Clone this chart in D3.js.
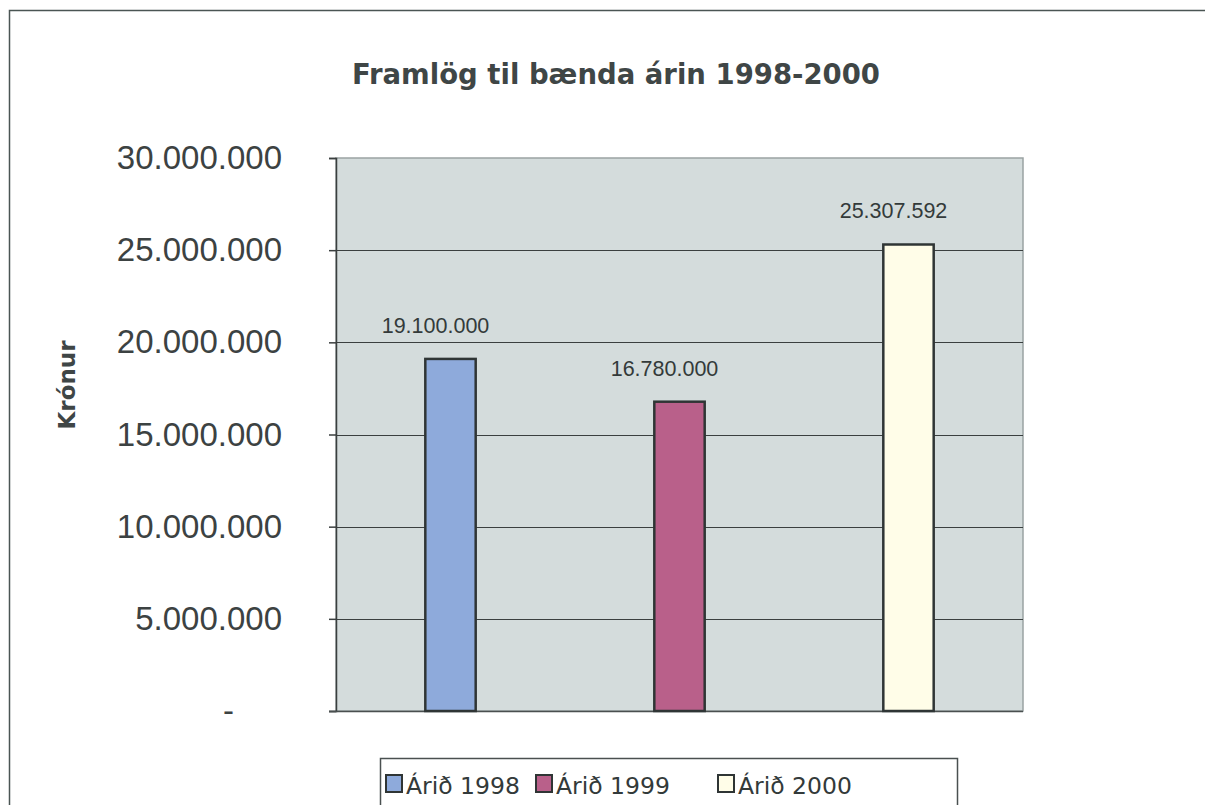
<!DOCTYPE html>
<html>
<head>
<meta charset="utf-8">
<script src="https://cdn.jsdelivr.net/npm/d3@7"></script>
<style>
  html, body { margin: 0; padding: 0; background: #ffffff; overflow: hidden; }
  svg { display: block; }
</style>
</head>
<body>
<svg id="chart" width="1205" height="805"></svg>
<script>
const categories = ["Árið 1998", "Árið 1999", "Árið 2000"];
const values = [19100000, 16780000, 25307592];
const valueLabels = ["19.100.000", "16.780.000", "25.307.592"];
const colors = ["#8eaadb", "#b9608a", "#fffde8"];
const yTicks = [0, 5000000, 10000000, 15000000, 20000000, 25000000, 30000000];
const yTickLabels = ["-", "5.000.000", "10.000.000", "15.000.000", "20.000.000", "25.000.000", "30.000.000"];
const title = "Framlög til bænda árin 1998-2000";
const yTitle = "Krónur";

const svg = d3.select("#chart");
const W = 1205, H = 805;
const plot = { left: 336, top: 158, right: 1023, bottom: 711 };

// outer chart border
svg.append("rect")
  .attr("x", 9.5).attr("y", 10.5)
  .attr("width", W + 20).attr("height", H + 20)
  .attr("fill", "#ffffff")
  .attr("stroke", "#4a5553").attr("stroke-width", 1.5);

const x = d3.scaleBand()
  .domain(categories)
  .range([plot.left, plot.right])
  .paddingInner(0.78)
  .paddingOuter(0.39);

const y = d3.scaleLinear()
  .domain([0, 30000000])
  .range([plot.bottom, plot.top]);

// plot background
svg.append("rect")
  .attr("x", plot.left).attr("y", plot.top)
  .attr("width", plot.right - plot.left).attr("height", plot.bottom - plot.top)
  .attr("fill", "#d4dcdc")
  .attr("stroke", "#9aa3a3").attr("stroke-width", 1.5);

// gridlines
svg.append("g")
  .selectAll("line")
  .data(yTicks.filter(d => d > 0 && d < 30000000))
  .join("line")
  .attr("x1", plot.left).attr("x2", plot.right)
  .attr("y1", d => Math.round(y(d)) + 0.5).attr("y2", d => Math.round(y(d)) + 0.5)
  .attr("stroke", "#3a3f3f").attr("stroke-width", 1.2);

// y axis
const yAxis = d3.axisLeft(y)
  .tickValues(yTicks)
  .tickFormat((d, i) => yTickLabels[i])
  .tickSize(7)
  .tickPadding(47);

const yg = svg.append("g")
  .attr("transform", `translate(${plot.left},0)`)
  .call(yAxis);
yg.select(".domain").attr("stroke", "#3a3f3f").attr("stroke-width", 1.5);
yg.selectAll(".tick line").attr("stroke", "#3a3f3f").attr("stroke-width", 1.5);
yg.selectAll(".tick text")
  .attr("font-family", "Liberation Sans, Arial, sans-serif")
  .attr("font-size", 33)
  .attr("fill", "#3c4242");
yg.selectAll(".tick text")
  .filter((d, i) => i === 0)
  .attr("dx", -48);

// bottom axis line
svg.append("line")
  .attr("x1", plot.left - 7).attr("x2", plot.right)
  .attr("y1", plot.bottom + 0.5).attr("y2", plot.bottom + 0.5)
  .attr("stroke", "#4a5050").attr("stroke-width", 1.5);

// bars
svg.append("g")
  .selectAll("rect")
  .data(values)
  .join("rect")
  .attr("x", (d, i) => x(categories[i]))
  .attr("y", d => y(d))
  .attr("width", x.bandwidth())
  .attr("height", d => y(0) - y(d))
  .attr("fill", (d, i) => colors[i])
  .attr("stroke", "#2f3535").attr("stroke-width", 2.5);

// value labels
svg.append("g")
  .selectAll("text")
  .data(values)
  .join("text")
  .attr("x", (d, i) => x(categories[i]) + x.bandwidth() / 2 - 15)
  .attr("y", d => y(d) - 26)
  .attr("text-anchor", "middle")
  .attr("font-family", "Liberation Sans, Arial, sans-serif")
  .attr("font-size", 21.5)
  .attr("fill", "#333a3a")
  .text((d, i) => valueLabels[i]);

// title
svg.append("text")
  .attr("x", 616).attr("y", 84)
  .attr("text-anchor", "middle")
  .attr("font-family", "DejaVu Sans, sans-serif")
  .attr("font-weight", "bold")
  .attr("font-size", 27.5)
  .attr("fill", "#3f4646")
  .text(title);

// y-axis title
svg.append("text")
  .attr("transform", "translate(75,385) rotate(-90)")
  .attr("text-anchor", "middle")
  .attr("font-family", "DejaVu Sans, sans-serif")
  .attr("font-weight", "bold")
  .attr("font-size", 23)
  .attr("fill", "#3f4646")
  .text(yTitle);

// legend
const legend = svg.append("g");
legend.append("rect")
  .attr("x", 380.5).attr("y", 758.5)
  .attr("width", 577).attr("height", 60)
  .attr("fill", "#ffffff")
  .attr("stroke", "#4a5050").attr("stroke-width", 1.5);

const legendX = [386, 536, 718];
const items = legend.selectAll("g.item")
  .data(categories)
  .join("g")
  .attr("class", "item")
  .attr("transform", (d, i) => `translate(${legendX[i]},0)`);
items.append("rect")
  .attr("x", 0).attr("y", 775)
  .attr("width", 16).attr("height", 17)
  .attr("fill", (d, i) => colors[i])
  .attr("stroke", "#2f3535").attr("stroke-width", 2);
items.append("text")
  .attr("x", 20).attr("y", 794)
  .attr("font-family", "DejaVu Sans, sans-serif")
  .attr("font-size", 23.5)
  .attr("fill", "#333a3a")
  .text(d => d);
</script>
</body>
</html>
